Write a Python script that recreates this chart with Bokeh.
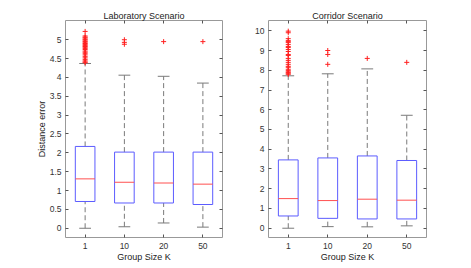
from bokeh.plotting import figure
from bokeh.layouts import row
from bokeh.models import (ColumnDataSource, FactorRange, Range1d, LinearAxis, CategoricalAxis,
                          FixedTicker, CustomJSTickFormatter)
from bokeh.transform import dodge
from bokeh.embed import file_html
from bokeh.resources import INLINE

groups = ["1", "10", "20", "50"]

# Laboratory scenario
lab_low = [0.0, 0.04, 0.14, 0.03]
lab_q1 = [0.71, 0.67, 0.67, 0.63]
lab_med = [1.31, 1.22, 1.20, 1.17]
lab_q3 = [2.17, 2.02, 2.02, 2.02]
lab_high = [4.37, 4.06, 4.03, 3.85]
lab_out_g = ["1"] * 26 + ["10"] * 3 + ["20", "50"]
lab_out_v = [5.22, 5.10, 5.07, 5.05, 5.02, 5.00, 4.97, 4.95, 4.92, 4.90, 4.87, 4.85, 4.82,
             4.80, 4.77, 4.74, 4.70, 4.67, 4.64, 4.60, 4.56, 4.52, 4.48, 4.44, 4.41, 4.39,
             4.88, 4.93, 5.00, 4.95, 4.95]
lab_yticks = [0, 0.5, 1, 1.5, 2, 2.5, 3, 3.5, 4, 4.5, 5]

# Corridor scenario
cor_low = [0.0, 0.08, 0.07, 0.12]
cor_q1 = [0.62, 0.50, 0.47, 0.47]
cor_med = [1.50, 1.40, 1.47, 1.42]
cor_q3 = [3.46, 3.56, 3.66, 3.43]
cor_high = [7.72, 7.82, 8.07, 5.72]
cor_out_g = ["1"] * 25 + ["10"] * 3 + ["20", "50"]
cor_out_v = [9.98, 9.90, 9.60, 9.50, 9.45, 9.40, 9.30, 9.20, 9.15, 9.05, 8.95, 8.80, 8.75,
             8.60, 8.50, 8.40, 8.30, 8.20, 8.15, 8.05, 7.98, 7.92, 7.88, 7.82, 7.80,
             8.30, 8.80, 9.00, 8.60, 8.40]
cor_yticks = [0, 1, 2, 3, 4, 5, 6, 7, 8, 9, 10]

FONT = "Liberation Sans"
BLUE = "#5c5cff"
RED = "#ff5050"
GRAY = "#7a7a7a"


def make_panel(title, low, q1, med, q3, high, og, ov, yr, yticks, width, bl, br, ylabel):
    p = figure(x_range=FactorRange(*groups, range_padding=0), y_range=Range1d(*yr),
               width=width, height=264, output_backend="svg", toolbar_location=None,
               min_border_left=bl, min_border_right=br, min_border_top=20, min_border_bottom=4,
               x_axis_location=None, y_axis_location=None)
    p.title.text = title
    p.title.align = "center"
    p.title.text_font = FONT
    p.title.text_font_size = "9px"
    p.title.text_font_style = "normal"
    p.title.text_color = "#222222"
    p.title.standoff = 0
    p.grid.visible = False
    p.outline_line_color = "#999999"
    p.outline_line_alpha = 1

    src = ColumnDataSource(dict(g=groups, low=low, q1=q1, med=med, q3=q3, high=high))
    p.segment(x0="g", y0="q3", x1="g", y1="high", source=src, line_color=GRAY,
              line_dash="5 3", line_width=1)
    p.segment(x0="g", y0="low", x1="g", y1="q1", source=src, line_color=GRAY,
              line_dash="5 3", line_width=1)
    for col in ["low", "high"]:
        p.segment(x0=dodge("g", -0.15, range=p.x_range), y0=col,
                  x1=dodge("g", 0.15, range=p.x_range), y1=col,
                  source=src, line_color=GRAY, line_width=1)
    p.vbar(x="g", width=0.5, bottom="q1", top="q3", source=src, fill_alpha=0,
           line_color=BLUE, line_width=1)
    p.segment(x0=dodge("g", -0.25, range=p.x_range), y0="med",
              x1=dodge("g", 0.25, range=p.x_range), y1="med",
              source=src, line_color=RED, line_width=1)
    osrc = ColumnDataSource(dict(g=og, v=ov))
    p.scatter(x="g", y="v", source=osrc, marker="cross", size=5, line_color="#ff2020",
              line_width=1)

    ticker = FixedTicker(ticks=yticks)
    yl = LinearAxis(ticker=ticker, axis_label=ylabel if ylabel else None)
    xb = CategoricalAxis(axis_label="Group Size K")
    yr_ax = LinearAxis(ticker=ticker,
                       major_label_overrides={t: "" for t in yticks})
    xt = CategoricalAxis(formatter=CustomJSTickFormatter(code="return '';"))
    for ax in (yl, xb, yr_ax, xt):
        ax.axis_line_color = None
        ax.major_tick_in = 3
        ax.major_tick_out = 0
        ax.major_tick_line_color = "#555555"
        ax.minor_tick_line_color = None
        ax.major_label_text_font = FONT
        ax.major_label_text_color = "#333333"
        ax.major_label_text_font_size = "8.5px"
        ax.axis_label_text_font = FONT
        ax.axis_label_text_font_style = "normal"
        ax.axis_label_text_font_size = "9px"
        ax.axis_label_text_color = "#222222"
        ax.axis_label_standoff = 0
    yl.major_label_standoff = 4
    xb.major_label_standoff = 5
    yr_ax.major_label_standoff = 0
    xt.major_label_standoff = 0
    p.add_layout(yl, "left")
    p.add_layout(xb, "below")
    p.add_layout(yr_ax, "right")
    p.add_layout(xt, "above")
    return p


p1 = make_panel("Laboratory Scenario", lab_low, lab_q1, lab_med, lab_q3, lab_high,
                lab_out_g, lab_out_v, (-0.245, 5.51), lab_yticks, 248, 65, 26, "Distance error")
p2 = make_panel("Corridor Scenario", cor_low, cor_q1, cor_med, cor_q3, cor_high,
                cor_out_g, cor_out_v, (-0.47, 10.52), cor_yticks, 208, 20, 30, "")

layout = row(p1, p2, spacing=0)
open("out.html", "w").write(file_html(layout, INLINE))
